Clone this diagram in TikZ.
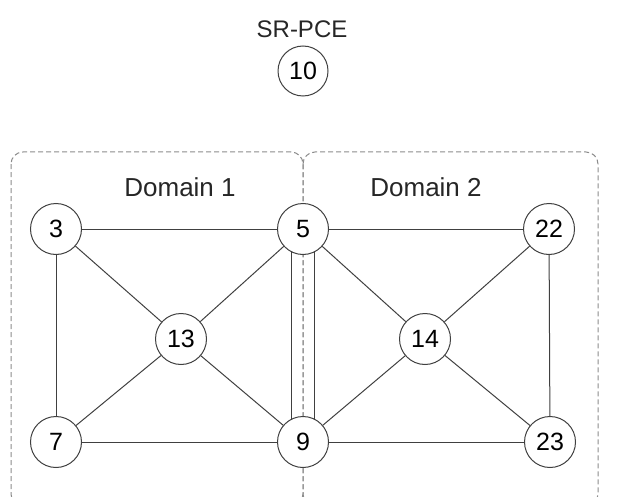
\documentclass[tikz,border=0pt]{standalone}
\usepackage{fontspec}
\setmainfont{Liberation Sans}
\usetikzlibrary{backgrounds}
\tikzset{
  nd/.style={circle,draw=black!75,line width=1pt,fill=white,minimum size=51pt,inner sep=0pt,font=\fontsize{25}{28}\selectfont},
  pce/.style={nd,minimum size=50pt},
  lk/.style={draw=black!75,line width=1pt},
  dom/.style={draw=black!45,line width=1pt,dash pattern=on 5pt off 3pt,rounded corners=12pt},
  lbl/.style={font=\fontsize{24}{28}\selectfont,text=black!85}
}
\begin{document}
\begin{tikzpicture}[x=1pt,y=-1pt]
\useasboundingbox (0,0) rectangle (620,497);
\node[lbl] (pcelbl) at (302,29) {SR-PCE};
\node[pce] (n10) at (303,71) {10};
\node[lbl,font=\fontsize{26}{28}\selectfont] (d1) at (180,187) {Domain 1};
\node[lbl,font=\fontsize{26}{28}\selectfont] (d2) at (426,187) {Domain 2};
\node[nd] (n3) at (56,229) {3};
\node[nd] (n5) at (303,229) {5};
\node[nd] (n22) at (549,229) {22};
\node[nd] (n13) at (181,339) {13};
\node[nd] (n14) at (425,339) {14};
\node[nd] (n7) at (56,442) {7};
\node[nd] (n9) at (303,442) {9};
\node[nd] (n23) at (550,442) {23};
\begin{scope}[on background layer]
\draw[dom] (11,152) rectangle (303,506);
\draw[dom] (303,152) rectangle (598,506);
\draw[lk] (n3) -- (n5);
\draw[lk] (n3) -- (n7);
\draw[lk] (n3) -- (n13);
\draw[lk] (n5) -- (n13);
\draw[lk] (n13) -- (n7);
\draw[lk] (n13) -- (n9);
\draw[lk] (n7) -- (n9);
\draw[lk] (n5) -- (n22);
\draw[lk] (n22) -- (n23);
\draw[lk] (n5) -- (n14);
\draw[lk] (n22) -- (n14);
\draw[lk] (n14) -- (n9);
\draw[lk] (n14) -- (n23);
\draw[lk] (n9) -- (n23);
\draw[lk] (n5.-116) -- (n9.116);
\draw[lk] (n5.-64) -- (n9.64);
\end{scope}
\end{tikzpicture}
\end{document}
